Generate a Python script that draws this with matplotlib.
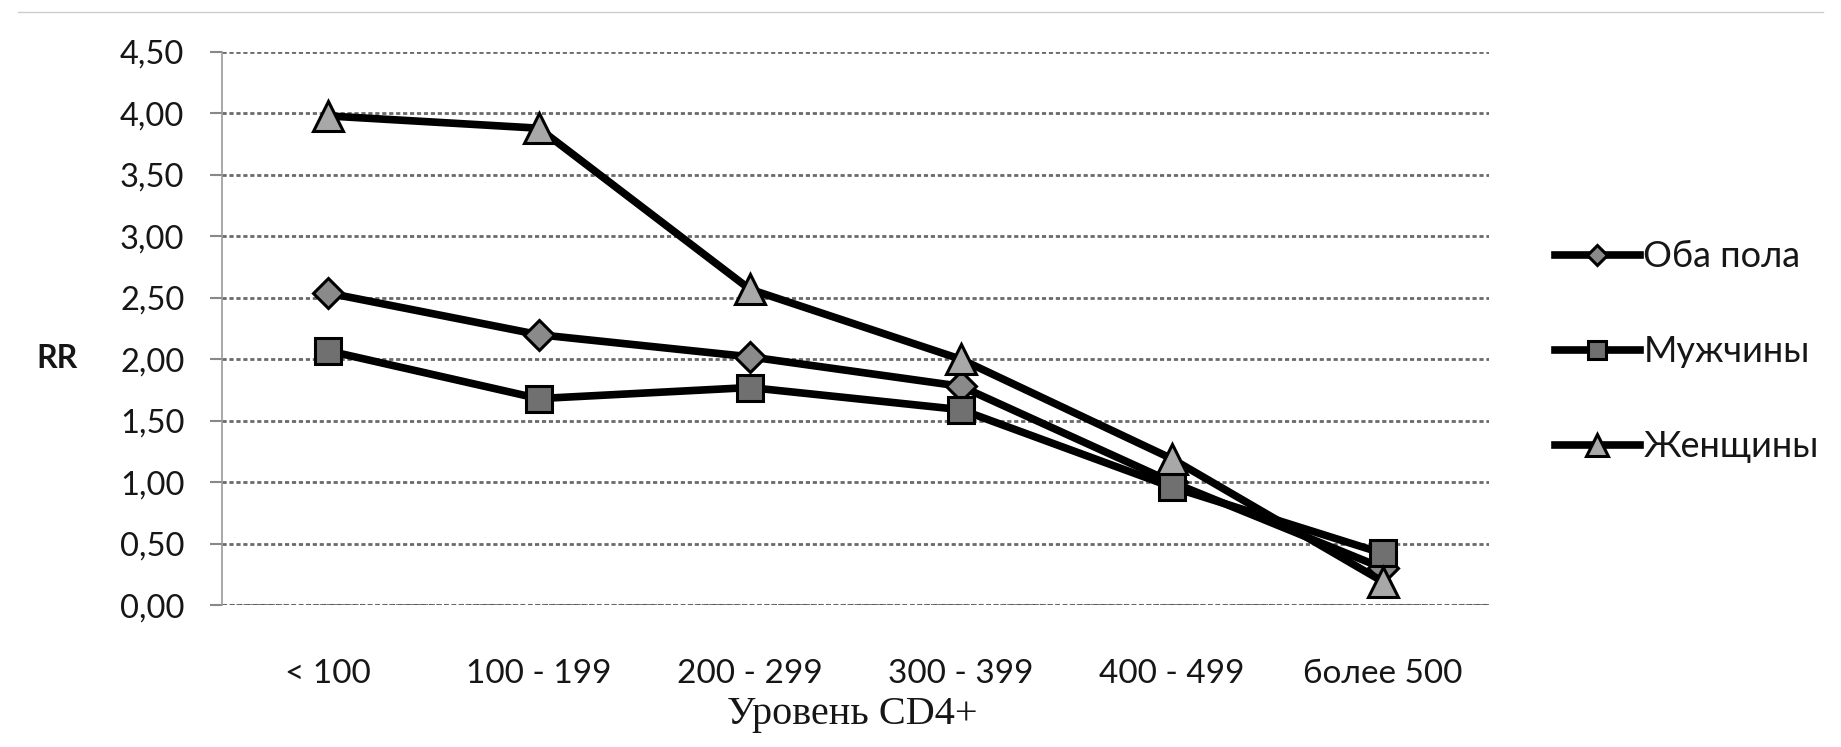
import matplotlib
matplotlib.use("Agg")
import matplotlib.pyplot as plt
from matplotlib.lines import Line2D

# Data (RR by CD4+ level)
CATEGORIES = ["< 100", "100 - 199", "200 - 299", "300 - 399", "400 - 499", "более 500"]
BOTH = [2.54, 2.20, 2.02, 1.78, 1.00, 0.30]
MEN = [2.07, 1.68, 1.77, 1.59, 0.96, 0.42]
WOMEN = [3.98, 3.88, 2.57, 2.00, 1.19, 0.19]
Y_TICKS = [0.0, 0.5, 1.0, 1.5, 2.0, 2.5, 3.0, 3.5, 4.0, 4.5]

SANS = ["Lato", "DejaVu Sans"]
SERIF = ["Liberation Serif", "DejaVu Serif"]
TXT = "#161616"

fig = plt.figure(figsize=(18.41, 7.47), dpi=100)
ax = fig.add_axes([0.1206, 0.190, 0.688, 0.7404])

x = list(range(len(CATEGORIES)))
series = [
    ("Оба пола", BOTH, "D", 15, "#8a8a8a"),
    ("Мужчины", MEN, "s", 19, "#707070"),
    ("Женщины", WOMEN, "^", 22, "#a8a8a8"),
]
handles = []
for label, vals, mk, ms, fc in series:
    ln, = ax.plot(x, vals, color="black", lw=5.5, marker=mk, markersize=ms,
                  markerfacecolor=fc, markeredgecolor="black", markeredgewidth=2.2,
                  solid_joinstyle="round", label=label, zorder=3)
    handles.append(ln)

ax.set_xlim(-0.5, len(CATEGORIES) - 0.5)
ax.set_ylim(0, 4.5)
ax.set_yticks(Y_TICKS)
ax.set_yticklabels([f"{v:.2f}".replace(".", ",") for v in Y_TICKS],
                   fontsize=23.5, family=SANS, color=TXT)
ax.set_xticks(x)
ax.set_xticklabels(CATEGORIES, fontsize=24, family=SANS, color=TXT)
ax.tick_params(axis="x", length=0, pad=39)
ax.tick_params(axis="y", length=9, width=1.5, color="#888888", pad=18)

ax.grid(axis="y", linestyle=(0, (1.5, 1)), color="#6a6a6a", lw=2)
for side in ["top", "right", "bottom"]:
    ax.spines[side].set_visible(False)
ax.spines["left"].set_color("#999999")
ax.spines["left"].set_linewidth(1.2)
ax.axhline(0, color="#5a5a5a", lw=2.2, linestyle=(0, (1.5, 1)), zorder=1)

ax.set_xlabel("Уровень CD4+", fontsize=29, family=SERIF, color=TXT)
ax.xaxis.label.set_va("center")
ax.xaxis.set_label_coords(0.498, -0.197)
fig.text(0.031, 1 - 358 / 747, "RR", fontsize=23, family=SANS, fontweight="bold",
         va="center", ha="center", color=TXT)

leg = ax.legend(handles=handles, loc="center left", bbox_to_anchor=(0.827, 0.529),
                bbox_transform=fig.transFigure, frameon=False,
                handlelength=2.35, handletextpad=0.1, labelspacing=1.72,
                markerscale=0.7, prop={"family": SANS, "size": 26})
for t in leg.get_texts():
    t.set_color(TXT)

# faint scan border at top
fig.add_artist(Line2D([0.01, 0.99], [1 - 12 / 747, 1 - 12 / 747],
                      color="#cccccc", lw=1, transform=fig.transFigure))

fig.savefig("out.png", dpi=100)
